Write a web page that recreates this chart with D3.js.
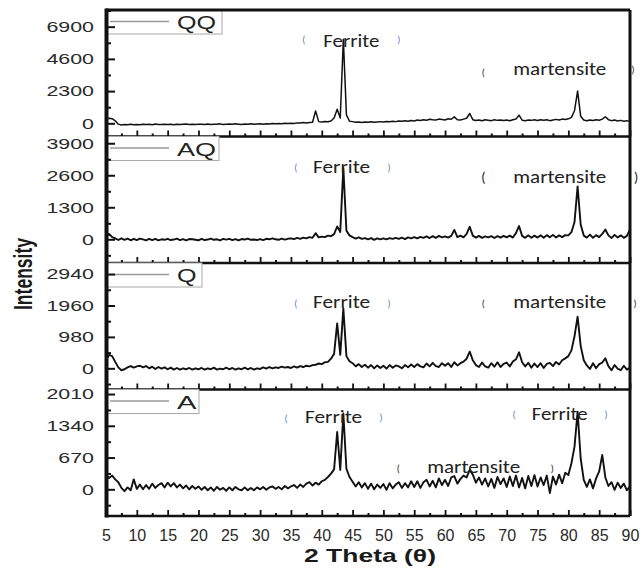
<!DOCTYPE html>
<html>
<head>
<meta charset="utf-8">
<script src="https://cdn.jsdelivr.net/npm/d3@7"></script>
<style>
  html, body { margin: 0; padding: 0; background: #fff; }
  svg { display: block; }
</style>
</head>
<body>
<svg id="chart" width="640" height="568"></svg>
<script>
// XRD scans, 2θ from 5° to 90° in 0.5° steps (171 readings per sample)
const scanStart = 5, scanEnd = 90, scanStep = 0.5;

const samples = ["QQ", "AQ", "Q", "A"];

const intensityQQ = [
  300, 360, 330, 180, -60, -120, -90, -110, -70, -100,
  -80, -110, -60, -90, -70, -100, -50, -80, -90, -60,
  -80, -70, -100, -60, -90, -70, -50, -80, -60, -90,
  -70, -60, -90, -50, -80, -60, -70, -40, -80, -60,
  -50, -70, -40, -60, -80, -50, -60, -40, -70, -50,
  -40, -60, -30, -50, -20, -40, -10, -30, 0, -20,
  10, -10, 30, 20, 50, 30, 60, 80, 880, 120,
  90, 130, 110, 170, 380, 1000, 380, 6000, 600, 150,
  120, 80, 100, 60, 90, 70, 110, 80, 100, 120,
  90, 130, 110, 150, 120, 170, 140, 180, 150, 200,
  170, 230, 200, 260, 220, 290, 250, 230, 300, 270,
  240, 320, 290, 460, 250, 230, 300, 360, 700, 260,
  200, 240, 180, 250, 220, 190, 260, 210, 240, 200,
  230, 180, 250, 300, 580, 220, 190, 240, 210, 250,
  200, 260, 220, 250, 190, 240, 280, 230, 300, 270,
  320, 420, 900, 2300, 500, 230, 180, 240, 200, 260,
  220, 300, 470, 260, 190, 240, 170, 210, 150, 190,
  120
];

const intensityAQ = [
  150, 220, 90, 40, -30, 40, -20, 30, -40, 20,
  -30, 30, 0, -40, 20, -30, 20, -40, 0, -20,
  20, -30, -10, 30, -30, 10, -40, 10, 0, -20,
  -40, 20, -30, -10, 30, -20, 0, -40, 20, -10,
  20, -30, 10, -40, 10, -10, 30, -20, -10, -30,
  10, -30, 20, 0, 40, 0, -20, 30, -10, 20,
  40, 10, 60, 20, 70, 40, 90, 60, 250, 80,
  110, 90, 150, 130, 210, 520, 300, 2900, 350, 160,
  90, 30, 80, 20, 50, 0, 50, -20, 40, 0,
  40, 0, 50, 20, 60, 20, 70, 10, 80, 40,
  90, 40, 100, 60, 120, 50, 130, 60, 140, 80,
  120, 70, 140, 380, 90, 150, 80, 220, 510, 150,
  70, 140, 60, 120, 80, 130, 50, 130, 70, 140,
  80, 150, 70, 250, 540, 140, 60, 160, 60, 150,
  70, 160, 60, 170, 80, 180, 70, 160, 90, 170,
  160, 290, 700, 2150, 600, 150, 70, 190, 60, 170,
  90, 220, 400, 160, 50, 180, 70, 160, 60, 140,
  400
];

const intensityQ = [
  250, 420, 380, 200, 30, -60, -30, 30, 70, 20,
  60, 80, 30, 70, 0, 50, -20, 40, -10, 30,
  -30, 20, -40, 10, -40, 0, -30, 10, -40, 0,
  -30, 10, -40, 0, -30, 20, -40, -10, -30, 20,
  -30, 10, -40, 0, -30, 20, -30, 10, -40, 0,
  -20, 30, -10, 40, 0, 30, 10, 50, 20, 40,
  10, 60, 20, 70, 40, 80, 60, 100, 110, 150,
  130, 190, 200, 300, 450, 1400, 420, 1870, 380, 220,
  160, 60, 130, 40, 110, 20, 100, 0, 90, 10,
  80, -10, 100, 20, 90, 60, 0, 100, 30, 120,
  40, 130, 60, 30, 150, 60, 170, 70, 40, 160,
  80, 160, 40, 190, 90, 160, 210, 300, 520, 250,
  100, 40, 180, 60, 20, 160, 50, 190, 40, 140,
  180, 60, 210, 280, 500, 190, 60, 170, 20, 150,
  40, 160, 10, 140, 170, 70, 200, 120, 250, 310,
  380, 560, 1000, 1610, 700, 250, 90, -20, 160, 0,
  130, 180, 310, 70, -60, 100, -10, -60, 80, -40,
  20
];

const intensityA = [
  300, 240, 290, 210, 150, 30, -40, 40, -20, 210,
  10, 100, 0, 90, 10, 120, 30, 90, 130, 40,
  140, 60, 130, 40, 100, 20, 80, 0, 70, 10,
  60, -10, 50, -20, 40, -30, 50, -10, 30, -30,
  40, -20, 50, 0, -20, 40, -20, 30, -20, 40,
  0, 50, -10, 40, 60, 10, 50, 0, 70, 20,
  60, 90, 30, 100, 50, 120, 150, 80, 140, 100,
  170, 200, 260, 330, 420, 1210, 410, 1600, 430, 260,
  160, 60, 150, 40, 130, 10, 120, 0, 100, 30,
  110, -10, 130, 20, 100, 150, 30, 130, 40, 170,
  50, 170, 30, 150, 200, 60, 180, 40, 230, 90,
  200, 70, 250, 280, 120, 220, 290, 250, 410, 310,
  140, 250, 100, 230, 60, 220, 30, 260, 110, 230,
  50, 270, 70, 290, 40, 240, 20, 280, 70, 300,
  60, 250, 90, 290, -80, 270, 100, 310, 130, 350,
  300, 550, 900, 1640, 650, 200, 50, 210, 20, 230,
  380, 725, 250, 70, 150, -10, 140, 30, 120, -20,
  60
];

const seriesValues = [intensityQQ, intensityAQ, intensityQ, intensityA];

// y tick labels for each stacked panel
const yTickValues = [
  [0, 2300, 4600, 6900],
  [0, 1300, 2600, 3900],
  [0, 980, 1960, 2940],
  [0, 670, 1340, 2010]
];
// intensity range shown by each panel
const yDomains = [
  [-942, 8090],
  [-962, 4174],
  [-661, 3285],
  [-563, 2106]
];

const xTickValues = [5, 10, 15, 20, 25, 30, 35, 40, 45, 50, 55, 60, 65, 70, 75, 80, 85, 90];

// phase annotations: panel index, text, 2θ of left edge, intensity level
const blue = "#4a7bd0";
const phaseLabels = [
  { panel: 0, text: "Ferrite",    theta: 40.25, level: 5470, width: 56 },
  { panel: 0, text: "martensite", theta: 71.07, level: 3450, width: 93 },
  { panel: 1, text: "Ferrite",    theta: 38.6,  level: 2680, width: 57 },
  { panel: 1, text: "martensite", theta: 71.07, level: 2275, width: 93 },
  { panel: 2, text: "Ferrite",    theta: 38.6,  level: 1870, width: 57 },
  { panel: 2, text: "martensite", theta: 71.07, level: 1870, width: 93 },
  { panel: 3, text: "Ferrite",    theta: 37.3,  level: 1393, width: 57 },
  { panel: 3, text: "Ferrite",    theta: 74.05, level: 1462, width: 56 },
  { panel: 3, text: "martensite", theta: 57.1,  level: 350,  width: 93 }
];
const phaseBrackets = [
  { panel: 0, text: "(", theta: 37.1, level: 5950, color: blue, size: 10 },
  { panel: 0, text: ")", theta: 52.5, level: 5950, color: blue, size: 10 },
  { panel: 0, text: "(", theta: 66.2, level: 3660, color: "#222", size: 10 },
  { panel: 0, text: ")", theta: 90.5, level: 3877, color: "#222", size: 10 },
  { panel: 1, text: "(", theta: 35.8, level: 2915, color: blue, size: 10 },
  { panel: 1, text: ")", theta: 50.9, level: 2915, color: blue, size: 10 },
  { panel: 1, text: "(", theta: 66.2, level: 2510, color: "#222", size: 14 },
  { panel: 1, text: ")", theta: 91.0, level: 2510, color: "#222", size: 14 },
  { panel: 2, text: "(", theta: 35.8, level: 2022, color: blue, size: 10 },
  { panel: 2, text: ")", theta: 50.9, level: 2022, color: blue, size: 10 },
  { panel: 2, text: "(", theta: 66.2, level: 2022, color: "#222", size: 10 },
  { panel: 2, text: ")", theta: 90.8, level: 2022, color: "#222", size: 10 },
  { panel: 3, text: "(", theta: 34.2, level: 1494, color: blue, size: 10 },
  { panel: 3, text: ")", theta: 49.6, level: 1515, color: blue, size: 10 },
  { panel: 3, text: "(", theta: 71.2, level: 1578, color: blue, size: 10 },
  { panel: 3, text: ")", theta: 86.1, level: 1578, color: blue, size: 10 },
  { panel: 3, text: "(", theta: 52.4, level: 449,  color: "#222", size: 10 },
  { panel: 3, text: ")", theta: 77.4, level: 449,  color: "#222", size: 10 }
];
// legend box widths per panel
const legendWidths = [116, 113, 96, 93];

// ---------------------------------------------------------------
const svg = d3.select("#chart");
const frame = { left: 106, right: 630, top: 10, bottom: 516 };
const sansFont = "'Liberation Sans', Arial, Helvetica, sans-serif";
const labelFont = "Carlito, Calibri, Lato, 'Open Sans', sans-serif";

const twoTheta = d3.range(scanStart, scanEnd + scanStep / 2, scanStep);

const x = d3.scaleLinear().domain([scanStart, scanEnd]).range([frame.left, frame.right]);
const band = d3.scaleBand().domain(samples).range([frame.top, frame.bottom]).padding(0);

svg.append("rect").attr("width", 640).attr("height", 568).attr("fill", "#fff");

const minorX = d3.range(7.5, 90, 5);

samples.forEach((name, i) => {
  const top = band(name), bottom = top + band.bandwidth();
  const y = d3.scaleLinear().domain(yDomains[i]).range([bottom, top]);
  const g = svg.append("g").attr("class", "panel");

  const points = twoTheta.map((t, k) => [t, seriesValues[i][k]]);
  const line = d3.line().x(d => x(d[0])).y(d => y(d[1]));

  // legend box
  const lg = g.append("g");
  lg.append("rect")
    .attr("x", frame.left).attr("y", top)
    .attr("width", legendWidths[i]).attr("height", 24)
    .attr("fill", "#fff").attr("stroke", "#a8a8a8").attr("stroke-width", 1);
  lg.append("line")
    .attr("x1", frame.left + 4).attr("x2", frame.left + 63)
    .attr("y1", top + 11.5).attr("y2", top + 11.5)
    .attr("stroke", "#9a9a9a").attr("stroke-width", 1.3);
  lg.append("text")
    .attr("x", frame.left + 71).attr("y", top + 19)
    .attr("font-family", sansFont).attr("font-size", 18).attr("fill", "#222")
    .attr("textLength", name.length * 19.5).attr("lengthAdjust", "spacingAndGlyphs")
    .text(name);

  // diffraction trace
  g.append("path")
    .datum(points)
    .attr("d", line)
    .attr("fill", "none")
    .attr("stroke", "#111")
    .attr("stroke-width", i === 0 ? 1.5 : 1.9)
    .attr("stroke-linejoin", "round");

  // left axis: major ticks with labels, minor ticks between
  const step = yTickValues[i][1] - yTickValues[i][0];
  const minorY = d3.range(Math.ceil(yDomains[i][0] / step) * step - step / 2, yDomains[i][1], step)
    .filter(v => v > yDomains[i][0] && v < yDomains[i][1]);

  const yAxis = g.append("g")
    .attr("transform", `translate(${frame.left},0)`)
    .call(d3.axisLeft(y).tickValues(yTickValues[i]).tickFormat(d3.format("d"))
      .tickSizeInner(-9).tickSizeOuter(0).tickPadding(12));
  yAxis.select(".domain").remove();
  yAxis.selectAll(".tick line").attr("stroke", "#111").attr("stroke-width", 2);
  yAxis.selectAll(".tick text")
    .attr("font-family", sansFont).attr("font-size", 15).attr("fill", "#2a2a2a")
    .attr("textLength", d => String(d).length * 11.9)
    .attr("lengthAdjust", "spacingAndGlyphs");

  const yMinor = g.append("g")
    .attr("transform", `translate(${frame.left},0)`)
    .call(d3.axisLeft(y).tickValues(minorY).tickSizeInner(-5).tickSizeOuter(0).tickFormat(""));
  yMinor.select(".domain").remove();
  yMinor.selectAll(".tick line").attr("stroke", "#111").attr("stroke-width", 2);

  // bottom ticks of each panel, pointing inward
  const xAxis = g.append("g")
    .attr("transform", `translate(0,${bottom})`)
    .call(d3.axisBottom(x).tickValues(xTickValues).tickSizeInner(-6).tickSizeOuter(0)
      .tickPadding(14).tickFormat(i === samples.length - 1 ? d3.format("d") : ""));
  xAxis.select(".domain").remove();
  xAxis.selectAll(".tick line").attr("stroke", "#111").attr("stroke-width", 1.8);
  xAxis.selectAll(".tick text")
    .attr("font-family", sansFont).attr("font-size", 16).attr("fill", "#2a2a2a");

  const xMinor = g.append("g")
    .attr("transform", `translate(0,${bottom})`)
    .call(d3.axisBottom(x).tickValues(minorX).tickSizeInner(-3).tickSizeOuter(0).tickFormat(""));
  xMinor.select(".domain").remove();
  xMinor.selectAll(".tick line").attr("stroke", "#111").attr("stroke-width", 2);

  // panel separator / frame edges
  g.append("line")
    .attr("x1", frame.left).attr("x2", frame.right)
    .attr("y1", bottom).attr("y2", bottom)
    .attr("stroke", "#111").attr("stroke-width", 2.4);

  // phase labels
  phaseLabels.filter(d => d.panel === i).forEach(d => {
    g.append("text")
      .attr("x", x(d.theta)).attr("y", y(d.level))
      .attr("font-family", labelFont).attr("font-size", 18).attr("fill", "#222")
      .attr("textLength", d.width).attr("lengthAdjust", "spacingAndGlyphs")
      .text(d.text);
  });
  phaseBrackets.filter(d => d.panel === i).forEach(d => {
    g.append("text")
      .attr("x", x(d.theta)).attr("y", y(d.level))
      .attr("dominant-baseline", "central")
      .attr("text-anchor", "middle")
      .attr("font-family", labelFont).attr("font-size", d.size).attr("fill", d.color)
      .text(d.text);
  });
});

// outer frame
svg.append("line")
  .attr("x1", frame.left).attr("x2", frame.right)
  .attr("y1", frame.top).attr("y2", frame.top)
  .attr("stroke", "#111").attr("stroke-width", 3);
svg.append("line")
  .attr("x1", frame.right).attr("x2", frame.right)
  .attr("y1", frame.top).attr("y2", frame.bottom)
  .attr("stroke", "#111").attr("stroke-width", 3);
svg.append("line")
  .attr("x1", frame.left + 0.5).attr("x2", frame.left + 0.5)
  .attr("y1", frame.top - 1.5).attr("y2", frame.bottom + 1.5)
  .attr("stroke", "#111").attr("stroke-width", 4);

// axis titles
svg.append("text")
  .attr("x", 370).attr("y", 562)
  .attr("text-anchor", "middle")
  .attr("font-family", sansFont).attr("font-weight", "bold").attr("font-size", 19).attr("fill", "#1a1a1a")
  .attr("textLength", 132).attr("lengthAdjust", "spacingAndGlyphs")
  .text("2 Theta (θ)");

svg.append("text")
  .attr("transform", "translate(31.5,274) rotate(-90)")
  .attr("text-anchor", "middle")
  .attr("font-family", sansFont).attr("font-weight", "bold").attr("font-size", 25).attr("fill", "#1a1a1a")
  .attr("textLength", 72).attr("lengthAdjust", "spacingAndGlyphs")
  .text("Intensity");
</script>
</body>
</html>
